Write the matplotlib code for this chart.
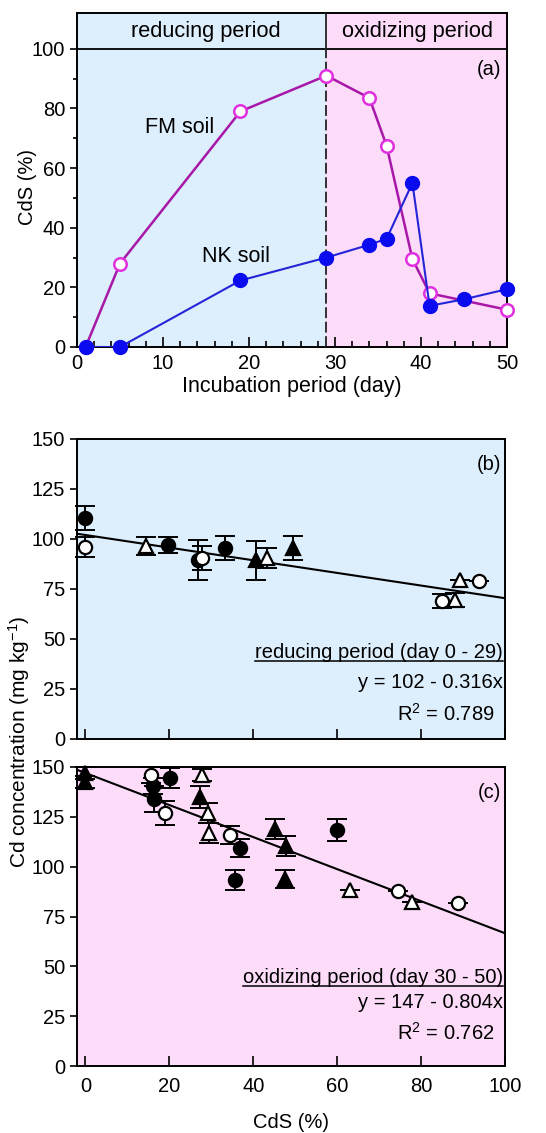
import matplotlib as mpl
mpl.use('Agg')
from matplotlib import pyplot as plt
import numpy as np

plt.rcParams['font.family'] = ['Liberation Sans', 'DejaVu Sans']
plt.rcParams['font.size'] = 14.5
plt.rcParams['mathtext.fontset'] = 'custom'
plt.rcParams['mathtext.rm'] = 'Liberation Sans'
plt.rcParams['mathtext.default'] = 'rm'

BLUE_BG = '#ddeefc'
PINK_BG = '#fcdcf8'

# panel (a): CdS vs incubation day
day_fm = [1, 5, 19, 29, 34, 36, 39, 41, 50]
cds_fm = [0, 28, 79, 91, 83.5, 67.5, 29.5, 18, 12.5]
day_nk = [1, 5, 19, 29, 34, 36, 39, 41, 45, 50]
cds_nk = [0, 0, 22.3, 30, 34.3, 36.3, 55, 13.8, 16, 19.4]
switch_day = 29

# panel (b): reducing period, Cd conc vs CdS
b_fc_x = [0, 19.7, 26.8, 33.3]
b_fc_y = [110.5, 97, 89.5, 95.5]
b_fc_e = [6, 4, 10, 6]
b_oc_x = [0, 27.8, 85.1, 93.7]
b_oc_y = [96, 90.5, 69, 78.8]
b_oc_e = [5, 6, 3.3, 0]
b_ft_x = [40.7, 49.4]
b_ft_y = [89.3, 95.5]
b_ft_e = [9.6, 5.8]
b_ot_x = [14.5, 43.2, 88, 89.3]
b_ot_y = [96.3, 90.5, 69.5, 79.5]
b_ot_e = [4.5, 5.2, 3.5, 0]
b_fit = (102, -0.316)

# panel (c): oxidizing period
c_fc_x = [16.0, 16.3, 20.1, 36.8, 35.6, 60]
c_fc_y = [140.6, 134, 144.3, 109.5, 93.3, 118.4]
c_fc_e = [4, 6.5, 5, 4.5, 4.8, 5.5]
c_oc_x = [15.6, 19.0, 34.4, 74.5, 88.8]
c_oc_y = [145.8, 127, 115.8, 87.8, 81.9]
c_oc_e = [4, 6, 4.5, 0, 0]
c_ft_x = [0, 0, 27.3, 45.2, 47.8, 47.6]
c_ft_y = [147, 142.5, 135, 119, 110.5, 94]
c_ft_e = [3, 3, 5.5, 5, 5, 4.5]
c_ot_x = [27.7, 29.3, 29.5, 63, 77.9]
c_ot_y = [146, 127, 117, 88.3, 82.4]
c_ot_e = [3, 5, 5, 0, 0]
c_fit = (147, -0.804)

fig = plt.figure(figsize=(5.46, 11.33), dpi=100)
W, H = 546., 1133.
ax_a = fig.add_axes([77/W, 1-347/H, 430/W, 334/H])
ax_b = fig.add_axes([77/W, 1-739/H, 428/W, 300/H])
ax_c = fig.add_axes([77/W, 1-1066/H, 428/W, 299/H])

##################### (a)
ax = ax_a
ax.axvspan(0, switch_day, color=BLUE_BG, zorder=0, lw=0)
ax.axvspan(switch_day, 50, color=PINK_BG, zorder=0, lw=0)
ax.axhline(100, color='k', lw=1.3, zorder=3)
ax.plot([switch_day, switch_day], [0, 100], color='#222222', lw=1.3, dashes=(6, 2), zorder=3)
ax.plot([switch_day, switch_day], [100, 112], color='#222222', lw=1.3, zorder=3)

ax.plot(day_fm, cds_fm, '-', color='#a818a8', lw=1.8, zorder=4)
ax.plot(day_fm, cds_fm, 'o', ms=9, mfc='white', mec='#e030e0', mew=1.8, zorder=5, clip_on=False)
ax.plot(day_nk, cds_nk, '-', color='#2424d8', lw=1.5, zorder=6)
ax.plot(day_nk, cds_nk, 'o', ms=10, mfc='#0b0bf0', mec='#0b0bf0', zorder=7, clip_on=False)

ax.text(15.0, 105.8, 'reducing period', ha='center', va='center', fontsize=15.7)
ax.text(39.6, 105.8, 'oxidizing period', ha='center', va='center', fontsize=15.7)
ax.text(49.3, 93, '(a)', ha='right', va='center')
ax.text(11.9, 73.5, 'FM soil', ha='center', va='center', fontsize=15.5)
ax.text(18.5, 30.5, 'NK soil', ha='center', va='center', fontsize=15.5)

ax.set_xlim(0, 50)
ax.set_ylim(0, 112)
ax.set_xticks([0, 10, 20, 30, 40, 50])
ax.set_xticks(np.arange(0, 51, 2), minor=True)
ax.set_yticks([0, 20, 40, 60, 80, 100])
ax.set_yticks([10, 30, 50, 70, 90], minor=True)
ax.tick_params(axis='x', which='both', direction='in', width=1.2, pad=5)
ax.tick_params(axis='x', which='major', length=7)
ax.tick_params(axis='x', which='minor', length=4)
ax.tick_params(axis='y', which='both', direction='out', width=1.2)
ax.tick_params(axis='y', which='major', length=5)
ax.tick_params(axis='y', which='minor', length=3)
ax.set_xlabel('Incubation period (day)', labelpad=2, fontsize=15.5)
ax.set_ylabel('CdS (%)')
ax.yaxis.set_label_coords(-0.092, 0.48)


def panel(ax, bg, fc, oc, ft, ot, fit, tag, title, eq, r2):
    ax.set_facecolor(bg)
    xs = np.array([-2, 100])
    ax.plot(xs, fit[0] + fit[1] * xs, color='k', lw=1.5, zorder=2)
    for (x, y, e), m, face in [(fc, 'o', 'k'), (oc, 'o', 'white'),
                               (ft, '^', 'k'), (ot, '^', 'white')]:
        ax.errorbar(x, y, yerr=e, fmt='none', ecolor='k', elinewidth=1.4,
                    capsize=7, capthick=1.4, zorder=3, clip_on=False)
        ax.plot(x, y, m, ms=9.5 if m == 'o' else 10, mfc=face, mec='k', mew=1.6,
                zorder=4, clip_on=False)
    ax.set_xlim(-2, 100)
    ax.set_ylim(0, 150)
    ax.set_xticks([0, 20, 40, 60, 80, 100])
    ax.set_yticks([0, 25, 50, 75, 100, 125, 150])
    ax.tick_params(axis='x', direction='in', length=7, width=1.2, pad=8)
    ax.tick_params(axis='y', direction='out', length=5, width=1.2)
    ax.text(99, 137, tag, ha='right', va='center')
    t = ax.text(99.5, title[1], title[0], ha='right', va='baseline')
    ax.text(99.5, eq[1], eq[0], ha='right', va='center')
    ax.text(97.5, r2[1], r2[0], ha='right', va='center')
    # underline a few pixels below the baseline
    fig.canvas.draw()
    bb = t.get_window_extent()
    inv = ax.transData.inverted()
    _, ybase = ax.transData.transform((0, title[1]))
    (x0, y0), (x1, _) = inv.transform([[bb.x0, ybase - 3.5], [bb.x1, ybase - 3.5]])
    ax.plot([x0, x1], [y0, y0], color='k', lw=1.1, clip_on=False, zorder=5)


panel(ax_b, BLUE_BG, (b_fc_x, b_fc_y, b_fc_e), (b_oc_x, b_oc_y, b_oc_e),
      (b_ft_x, b_ft_y, b_ft_e), (b_ot_x, b_ot_y, b_ot_e), b_fit, '(b)',
      ('reducing period (day 0 - 29)', 40.5),
      ('y = 102 - 0.316x', 28), ('R$^2$ = 0.789', 12.5))
ax_b.set_xticklabels([])
panel(ax_c, PINK_BG, (c_fc_x, c_fc_y, c_fc_e), (c_oc_x, c_oc_y, c_oc_e),
      (c_ft_x, c_ft_y, c_ft_e), (c_ot_x, c_ot_y, c_ot_e), c_fit, '(c)',
      ('oxidizing period (day 30 - 50)', 41.8),
      ('y = 147 - 0.804x', 31.8), ('R$^2$ = 0.762', 16.5))
ax_c.set_xlabel('CdS (%)', labelpad=12)

fig.text(0.034, 1 - 742/H, 'Cd concentration (mg kg$^{-1}$)', rotation=90,
         ha='center', va='center', fontsize=15)

for ax in (ax_a, ax_b, ax_c):
    for s in ax.spines.values():
        s.set_linewidth(1.4)

plt.savefig('out.png', dpi=100)
plt.close()
